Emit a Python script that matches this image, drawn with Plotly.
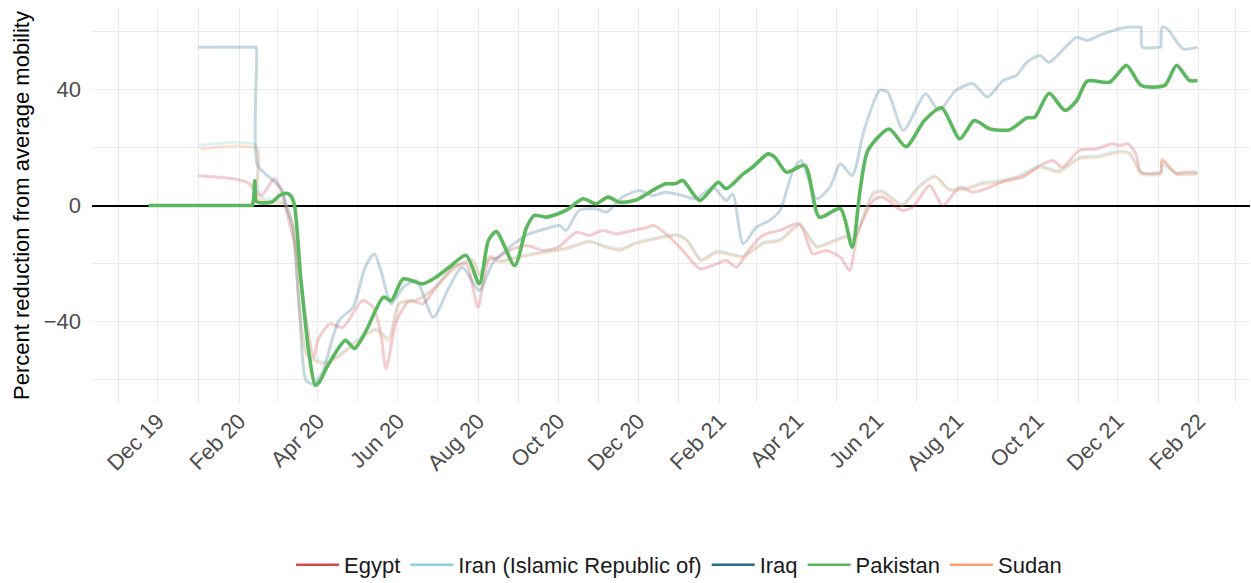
import plotly.graph_objects as go

countries = ["Egypt", "Iran (Islamic Republic of)", "Iraq", "Pakistan", "Sudan"]
colors = ["#d9464f", "#84d3dc", "#2a6a8e", "#5cb85f", "#fca06a"]
faded = ["rgba(217,70,79,0.28)", "rgba(132,211,220,0.30)", "rgba(42,106,142,0.27)",
         "rgba(92,184,95,1)", "rgba(252,160,106,0.30)"]

pakistan_dates = ["2019-11-24", "2019-12-20", "2020-01-20", "2020-02-10", "2020-02-11", "2020-02-12",
                  "2020-02-13", "2020-02-14", "2020-02-16",
                  "2020-02-26", "2020-03-03", "2020-03-08", "2020-03-11", "2020-03-14", "2020-03-19",
                  "2020-03-25", "2020-03-30", "2020-04-02", "2020-04-08", "2020-04-22", "2020-04-29",
                  "2020-05-08", "2020-05-21", "2020-05-27", "2020-06-05", "2020-06-20", "2020-06-30",
                  "2020-07-10", "2020-07-23", "2020-08-02", "2020-08-09", "2020-08-15", "2020-08-29",
                  "2020-09-07", "2020-09-13", "2020-09-22", "2020-10-07", "2020-10-20", "2020-10-30",
                  "2020-11-08", "2020-11-17", "2020-11-30", "2020-12-12", "2020-12-22", "2020-12-29",
                  "2021-01-04", "2021-01-17", "2021-01-31", "2021-02-06", "2021-02-19", "2021-02-26",
                  "2021-03-10", "2021-03-15", "2021-03-24", "2021-04-07", "2021-04-18", "2021-05-04",
                  "2021-05-13", "2021-05-19", "2021-05-25", "2021-06-10", "2021-06-23", "2021-07-07",
                  "2021-07-20", "2021-08-03", "2021-08-14", "2021-08-26", "2021-09-10", "2021-09-23",
                  "2021-09-29", "2021-10-10", "2021-10-22", "2021-10-31", "2021-11-08", "2021-11-25",
                  "2021-12-08", "2021-12-19", "2022-01-06", "2022-01-15", "2022-01-25", "2022-01-31"]
pakistan_vals = [0, 0, 0, 0, 0, 2,
                 8.5, 1.5, 1,
                 1.2, 3.5, 4.2, 3.5, 0.5, -25,
                 -50, -62, -61, -55.7, -46.5, -49.3,
                 -43, -31.6, -32.8, -25.3, -27, -24.7,
                 -21.3, -17.2, -27, -12, -9, -20.7,
                 -7.5, -3.4, -4, -1.7, 2.3, 0.6,
                 2.9, 1.1, 2, 5.2, 7.5, 7.5,
                 8.6, 1.7, 8, 5.8, 10.9, 13.2,
                 17.8, 16.7, 11.5, 13.8, -4, -1.1,
                 -14.4, 5.2, 19, 26.4, 20.3, 29.3,
                 33.7, 23, 29.3, 26.4, 26.1, 30.2,
                 30.4, 38.7, 32.8, 36.2, 42.9, 42.5,
                 48.3, 41.4, 41.4, 48.3, 43.1, 43.1]

iraq_dates = ["2020-01-01", "2020-02-13", "2020-02-14", "2020-02-15", "2020-02-27", "2020-03-05",
              "2020-03-08", "2020-03-13", "2020-03-18", "2020-03-23", "2020-03-28", "2020-04-04",
              "2020-04-17", "2020-04-28", "2020-05-07", "2020-05-14", "2020-05-19", "2020-05-27",
              "2020-06-05", "2020-06-15", "2020-06-28", "2020-07-10", "2020-07-20", "2020-08-02",
              "2020-08-12", "2020-08-25", "2020-09-09", "2020-09-22", "2020-10-02", "2020-10-07",
              "2020-10-17", "2020-10-30", "2020-11-07", "2020-11-19", "2020-12-02", "2020-12-12",
              "2020-12-22", "2021-01-04", "2021-01-14", "2021-01-27", "2021-02-06", "2021-02-11",
              "2021-02-19", "2021-03-01", "2021-03-11", "2021-03-19", "2021-03-29", "2021-04-04",
              "2021-04-16", "2021-04-26", "2021-05-04", "2021-05-13", "2021-05-22", "2021-06-03",
              "2021-06-09", "2021-06-21", "2021-07-08", "2021-07-18", "2021-07-31", "2021-08-13",
              "2021-08-24", "2021-09-05", "2021-09-15", "2021-09-23", "2021-10-03", "2021-10-10",
              "2021-10-31", "2021-11-08", "2021-11-20", "2021-12-08", "2021-12-18", "2021-12-19",
              "2021-12-20", "2022-01-02", "2022-01-03", "2022-01-04", "2022-01-08", "2022-01-20",
              "2022-01-31"]
iraq_vals = [54.6, 54.6, 54.6, 14, 8.6, 5.2,
             -0.6, -7.5, -36.2, -60.3, -61.5, -58,
             -39.7, -35, -21.3, -16.7, -22.4, -33.9,
             -28.2, -25.9, -38.5, -28.2, -21.3, -29.3,
             -20, -14.4, -9.8, -8, -6.9, -8.6,
             -1.7, -1.1, -2.3, 2.9, 5.2, 3.4,
             4.6, 3.4, 2.3, 6.3, 1.7, 4,
             -13.2, -7.5, -5.2, -1.7, 12.1, 15.5,
             2.3, 6.3, 14.4, 10.3, 25.9, 39.7,
             39.1, 25.9, 38.5, 32.8, 39.7, 42,
             37.4, 43.1, 44.8, 49.4, 51.7, 49.4,
             58, 56.9, 59.2, 61.5, 61.5, 61.5,
             54.6, 54.6, 54.6, 61.5, 60.9, 54,
             54.6]

egypt_dates = ["2020-01-01", "2020-01-28", "2020-02-09", "2020-02-13", "2020-02-18", "2020-02-28",
               "2020-03-05", "2020-03-08", "2020-03-16", "2020-03-22", "2020-03-29", "2020-04-01",
               "2020-04-10", "2020-04-20", "2020-05-05", "2020-05-13", "2020-05-19", "2020-05-23",
               "2020-05-31", "2020-06-10", "2020-06-20", "2020-06-30", "2020-07-13", "2020-07-23",
               "2020-08-01", "2020-08-09", "2020-08-17", "2020-08-25", "2020-09-07", "2020-09-20",
               "2020-10-01", "2020-10-15", "2020-10-25", "2020-11-04", "2020-11-14", "2020-11-27",
               "2020-12-07", "2020-12-13", "2020-12-25", "2021-01-04", "2021-01-17", "2021-01-27",
               "2021-02-06", "2021-02-14", "2021-02-23", "2021-03-06", "2021-03-19", "2021-04-03",
               "2021-04-13", "2021-04-23", "2021-05-04", "2021-05-11", "2021-05-17", "2021-05-29",
               "2021-06-05", "2021-06-20", "2021-06-28", "2021-07-11", "2021-07-21", "2021-08-03",
               "2021-08-13", "2021-08-26", "2021-09-07", "2021-09-20", "2021-10-03", "2021-10-13",
               "2021-10-20", "2021-11-02", "2021-11-15", "2021-11-27", "2021-12-03", "2021-12-09",
               "2021-12-15", "2021-12-19", "2022-01-03", "2022-01-04", "2022-01-15", "2022-01-20",
               "2022-01-31"]
egypt_vals = [10.3, 9.2, 7.5, 5.2, 3.4, 9.2,
              4, -1.7, -16.7, -36.2, -52.3, -46.5,
              -40.8, -42, -32.8, -35, -44.2, -56.3,
              -39.7, -32.8, -33.9, -28.2, -21.3, -20.1,
              -35, -19, -17.8, -15.5, -13.8, -15.5,
              -14.4, -9.2, -10.3, -8.6, -9.8, -8.6,
              -7.7, -6.9, -10.9, -15.5, -21.8, -20.7,
              -19, -21.3, -15.5, -10.3, -8.6, -6.3,
              -16.7, -15.5, -17.8, -22.4, -9.8, 1.7,
              2.9, -1.7, -0.6, 6.9, 0, 6.3,
              4.6, 6.3, 8.6, 9.8, 13.8, 15.5,
              13.2, 19, 19.5, 21.3, 20.7, 21.3,
              17.8, 11.5, 11.5, 15.5, 10.9, 11.5,
              11.5]

iran_dates = ["2020-01-01", "2020-02-14", "2020-02-15", "2020-02-20", "2020-03-01", "2020-03-08",
              "2020-03-13", "2020-03-18", "2020-03-24", "2020-04-07", "2020-04-20", "2020-05-02",
              "2020-05-15", "2020-05-25", "2020-06-02", "2020-06-15", "2020-06-30", "2020-07-15",
              "2020-07-28", "2020-08-02", "2020-08-10", "2020-08-17", "2020-09-02", "2020-09-22",
              "2020-10-07", "2020-10-25", "2020-11-06", "2020-11-17", "2020-11-29", "2020-12-15",
              "2020-12-30", "2021-01-07", "2021-01-18", "2021-01-30", "2021-02-11", "2021-02-19",
              "2021-03-06", "2021-03-19", "2021-04-03", "2021-04-16", "2021-04-28", "2021-05-09",
              "2021-05-14", "2021-05-29", "2021-06-05", "2021-06-20", "2021-07-03", "2021-07-15",
              "2021-07-26", "2021-08-08", "2021-08-21", "2021-09-02", "2021-09-17", "2021-10-03",
              "2021-10-17", "2021-11-02", "2021-11-17", "2021-12-03", "2021-12-10", "2021-12-16",
              "2021-12-19", "2022-01-03", "2022-01-04", "2022-01-15", "2022-01-31"]
iran_vals = [20.7, 20.7, 6, 2.5, 2, 0,
             -7.5, -35, -51, -54, -50.5, -46,
             -42.5, -45.5, -33.5, -32.5, -27.8, -21,
             -18.6, -23.5, -17.4, -19, -17.4, -15.7,
             -14.6, -12.2, -14, -15, -12.8, -11.1,
             -10, -11.7, -18.6, -15.7, -16.8, -17.4,
             -12.8, -11.7, -6.5, -14, -12.2, -10.5,
             -11.7, 4.5, 5.1, 0.5, 6.8, 10.3,
             5.7, 6.2, 8, 8.5, 10.3, 13.7,
             12, 16.6, 17.2, 18.9, 18.3, 13.7,
             11.4, 11.4, 14, 11.2, 11.2]

sudan_dates = ["2020-01-03", "2020-02-14", "2020-02-15", "2020-02-20", "2020-03-01", "2020-03-08",
               "2020-03-13", "2020-03-18", "2020-03-24", "2020-04-07", "2020-04-20", "2020-05-02",
               "2020-05-15", "2020-05-25", "2020-06-02", "2020-06-15", "2020-06-30", "2020-07-15",
               "2020-07-28", "2020-08-02", "2020-08-10", "2020-08-17", "2020-09-02", "2020-09-22",
               "2020-10-07", "2020-10-25", "2020-11-06", "2020-11-17", "2020-11-29", "2020-12-15",
               "2020-12-30", "2021-01-07", "2021-01-18", "2021-01-30", "2021-02-11", "2021-02-19",
               "2021-03-06", "2021-03-19", "2021-04-03", "2021-04-16", "2021-04-28", "2021-05-09",
               "2021-05-14", "2021-05-29", "2021-06-05", "2021-06-20", "2021-07-03", "2021-07-15",
               "2021-07-26", "2021-08-08", "2021-08-21", "2021-09-02", "2021-09-17", "2021-10-03",
               "2021-10-17", "2021-11-02", "2021-11-17", "2021-12-03", "2021-12-10", "2021-12-16",
               "2021-12-19", "2022-01-03", "2022-01-04", "2022-01-15", "2022-01-31"]
sudan_vals = [19.5, 19.5, 3, 1.5, 1, 0,
              -7.5, -36, -52, -54.6, -51, -46.5,
              -43, -46.5, -33.9, -32.8, -28.2, -21.3,
              -19, -24, -17.8, -19.5, -17.8, -16.1,
              -15, -12.6, -14.4, -15.5, -13.2, -11.5,
              -10.3, -12.1, -19, -16.1, -17.2, -17.8,
              -13.2, -12.1, -6.9, -14.4, -12.6, -10.9,
              -12.1, 4, 4.6, 0, 6.3, 9.8,
              5.2, 5.7, 7.5, 8, 9.8, 13.2,
              11.5, 16.1, 16.7, 18.4, 17.8, 13.2,
              10.9, 10.9, 16.1, 10.9, 10.9]

series = [(egypt_dates, egypt_vals), (iran_dates, iran_vals), (iraq_dates, iraq_vals),
          (pakistan_dates, pakistan_vals), (sudan_dates, sudan_vals)]

FONT = "Liberation Sans"
FS = 22

fig = go.Figure()
draw_order = [0, 1, 2, 4, 3]
for i in draw_order:
    d, v = series[i]
    fig.add_trace(go.Scatter(
        x=d, y=v, mode="lines", name=countries[i], showlegend=False,
        line=dict(color=faded[i], width=3.6 if i == 3 else 3.0, shape="spline", smoothing=0.7),
        hoverinfo="skip"))
for i in range(5):
    fig.add_trace(go.Scatter(
        x=[None], y=[None], mode="lines", name=countries[i], showlegend=True,
        line=dict(color=colors[i], width=2.5)))

fig.update_layout(
    width=1251, height=583,
    margin=dict(l=92, r=1, t=8, b=180, autoexpand=False),
    plot_bgcolor="white", paper_bgcolor="white",
    font=dict(family=FONT, size=FS, color="#4d4d4d"),
    legend=dict(orientation="h", xref="paper", x=0.507, xanchor="center",
                yref="container", y=0.031, yanchor="middle", itemwidth=43,
                font=dict(family=FONT, size=FS, color="#1a1a1a"), traceorder="normal"),
    xaxis=dict(
        type="date", range=["2019-10-12", "2022-03-12"], automargin=False,
        tick0="2019-12-01", dtick="M2", tickformat="%b %y", tickangle=-45,
        showgrid=True, gridcolor="#ebebeb", gridwidth=1.3,
        minor=dict(dtick="M1", tick0="2019-11-01", showgrid=True, gridcolor="#ebebeb", gridwidth=0.9),
        ticks="", showline=False, zeroline=False,
        tickfont=dict(family=FONT, size=FS, color="#4d4d4d"),
    ),
    yaxis=dict(
        range=[-68.1, 68.1], tick0=0, dtick=40, automargin=False,
        showgrid=True, gridcolor="#ebebeb", gridwidth=1.3,
        minor=dict(dtick=20, tick0=0, showgrid=True, gridcolor="#ebebeb", gridwidth=0.9),
        zeroline=True, zerolinecolor="black", zerolinewidth=1.6,
        ticks="", ticklabelstandoff=10, showline=False,
        tickfont=dict(family=FONT, size=FS, color="#4d4d4d"),
        title=dict(text="Percent reduction from average mobility", standoff=7,
                   font=dict(family=FONT, size=FS, color="black")),
    ),
)

fig.write_html("out.html", config={"displayModeBar": False},
               post_script="document.body.style.margin='0px';")
